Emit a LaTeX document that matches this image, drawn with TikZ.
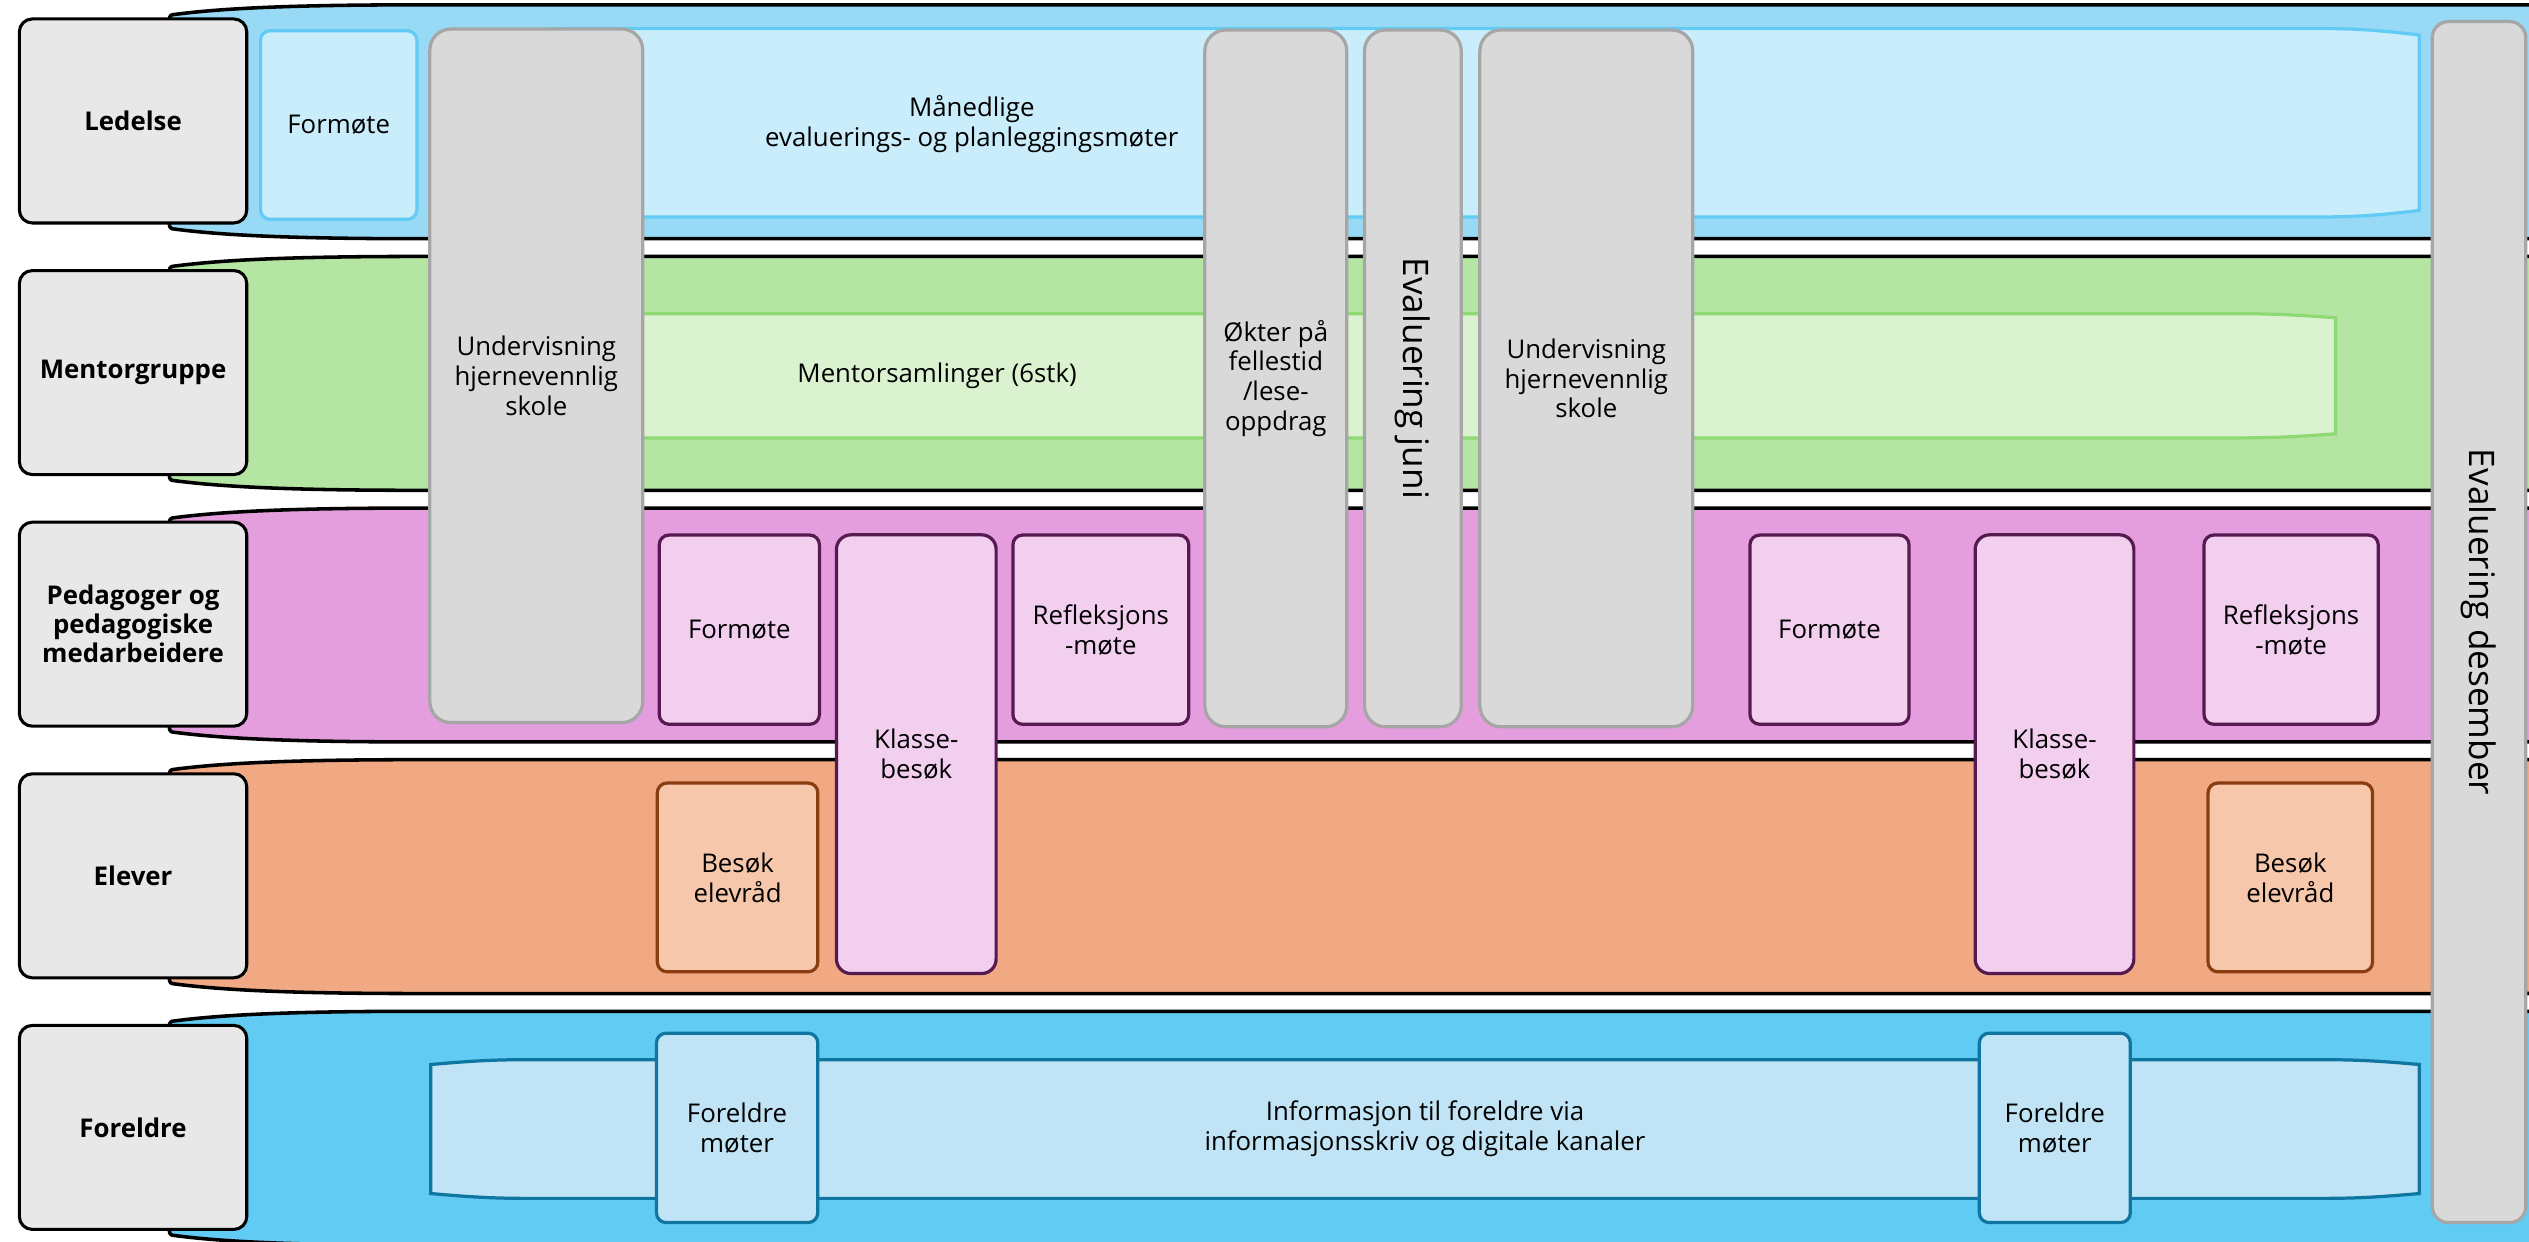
\documentclass[tikz,border=0pt]{standalone}
\usepackage{fontspec}
\setmainfont{Open Sans}
\definecolor{bandA}{HTML}{98DAF6}
\definecolor{bandB}{HTML}{B4E5A2}
\definecolor{bandC}{HTML}{E49EDD}
\definecolor{bandD}{HTML}{F1A983}
\definecolor{bandE}{HTML}{61CBF3}
\definecolor{inA}{HTML}{CAEDFB}
\definecolor{inAline}{HTML}{61CBF3}
\definecolor{inB}{HTML}{DAF2D0}
\definecolor{inBline}{HTML}{8ED973}
\definecolor{inC}{HTML}{F2CEEF}
\definecolor{inCline}{HTML}{561A51}
\definecolor{inD}{HTML}{F7C7AC}
\definecolor{inDline}{HTML}{8B3D12}
\definecolor{inE}{HTML}{C0E4F5}
\definecolor{inEline}{HTML}{0E76A0}
\definecolor{grayfill}{HTML}{D9D9D9}
\definecolor{grayline}{HTML}{A6A6A6}
\definecolor{labfill}{HTML}{E8E8E8}
% bulged shape: xl xr ty by bulge transition
\newcommand{\bulgeshape}[6]{(#1,#3) .. controls ({#1+0.35*#6},{#3-0.6*#5}) and ({#1+0.6*#6},{#3-#5}) .. ({#1+#6},{#3-#5}) -- ({#2-#6},{#3-#5}) .. controls ({#2-0.6*#6},{#3-#5}) and ({#2-0.35*#6},{#3-0.6*#5}) .. (#2,#3) -- (#2,#4) .. controls ({#2-0.35*#6},{#4+0.6*#5}) and ({#2-0.6*#6},{#4+#5}) .. ({#2-#6},{#4+#5}) -- ({#1+#6},{#4+#5}) .. controls ({#1+0.6*#6},{#4+#5}) and ({#1+0.35*#6},{#4+0.6*#5}) .. (#1,#4) -- cycle}
% band shape: top y, bottom y
\newcommand{\bandshape}[2]{(105,{#2-3}) -- (105,{#1+3}) .. controls (105,{#1+1}) and (106,#1) .. (108,#1) .. controls (135,{#1-3.5}) and (175,{#1-6}) .. (260,{#1-6}) -- (1560,{#1-6}) .. controls (1620,{#1-6}) and (1680,{#1-3}) .. (1720,#1) -- (1720,#2) .. controls (1680,{#2+3}) and (1620,{#2+6}) .. (1560,{#2+6}) -- (260,{#2+6}) .. controls (175,{#2+6}) and (135,{#2+3.5}) .. (108,#2) .. controls (106,#2) and (105,{#2-1}) .. (105,{#2-3}) -- cycle}
\tikzset{
  txt/.style={font=\fontsize{16}{18.5}\selectfont, align=center, text=black},
  band/.style={draw=black, line width=2.2pt, line join=round},
  lab/.style={draw=black, line width=1.9pt, fill=labfill, rounded corners=8pt,
    minimum width=141pt, minimum height=126.5pt, inner sep=0pt, align=center,
    font=\fontsize{16}{18}\selectfont\bfseries},
  sbox/.style={line width=2pt, rounded corners=6pt, inner sep=0pt, txt},
  boxA/.style={sbox, draw=inAline, fill=inA},
  boxC/.style={sbox, draw=inCline, fill=inC},
  boxD/.style={sbox, draw=inDline, fill=inD},
  boxE/.style={sbox, draw=inEline, fill=inE},
  graybox/.style={draw=grayline, fill=grayfill, line width=2pt, rounded corners=13pt,
    inner sep=0pt, txt},
  vlabel/.style={font=\fontsize{21.8}{24}\selectfont, rotate=-90, inner sep=0pt},
}
\begin{document}
\begin{tikzpicture}[x=1pt,y=-1pt]
\useasboundingbox (0,0) rectangle (1568,770);
\clip (0,0) rectangle (1568,770);
% bands
\foreach \k/\c in {0/bandA,1/bandB,2/bandC,3/bandD,4/bandE}{
  \pgfmathsetmacro{\t}{9+156*\k}
  \pgfmathsetmacro{\b}{142+156*\k}
  \draw[band, fill=\c] \bandshape{\t}{\b};
  \coordinate (band\k) at (105,\t);
}
% inner wide boxes
\draw[line width=2pt, draw=inAline, fill=inA] \bulgeshape{300}{1500}{21.7}{130.5}{4}{60};
\draw[line width=2pt, draw=inBline, fill=inB] \bulgeshape{300}{1448}{197}{269}{2.5}{60};
\draw[line width=2pt, draw=inEline, fill=inE] \bulgeshape{267}{1500}{660}{740}{3}{60};
\node[txt] (maaned) at (602.5,77) {Månedlige\\evaluerings- og planleggingsmøter};
\node[txt] (mentors) at (581,233) {Mentorsamlinger (6stk)};
\node[txt] (info) at (883.5,700) {Informasjon til foreldre via\\informasjonsskriv og digitale kanaler};
% Ledelse row
\node[boxA, minimum width=97pt, minimum height=117pt] (formA) at (210,77.5) {Formøte};
% Pedagoger row
\node[boxC, minimum width=99.3pt, minimum height=117.3pt] (formC1) at (458.4,390.4) {Formøte};
\node[boxC, minimum width=109pt, minimum height=117.3pt] (refl1) at (682.5,390.4) {Refleksjons\\-møte};
\node[boxC, minimum width=98.6pt, minimum height=117.3pt] (formC2) at (1134.3,390.4) {Formøte};
\node[boxC, minimum width=108pt, minimum height=117.3pt] (refl2) at (1420.5,390.4) {Refleksjons\\-møte};
% Elever row
\node[boxD, minimum width=99.5pt, minimum height=117pt] (elev1) at (457.3,544) {Besøk\\elevråd};
\node[boxD, minimum width=102pt, minimum height=117pt] (elev2) at (1420,544) {Besøk\\elevråd};
% Klassebesøk spanning
\node[boxC, rounded corners=9pt, minimum width=99pt, minimum height=272pt] (klasse1) at (568.1,467.6) {Klasse-\\besøk};
\node[boxC, rounded corners=9pt, minimum width=98.4pt, minimum height=272pt] (klasse2) at (1273.8,467.6) {Klasse-\\besøk};
% Foreldre row
\node[boxE, minimum width=100pt, minimum height=117.4pt] (fm1) at (457,699.3) {Foreldre\\møter};
\node[boxE, minimum width=93.6pt, minimum height=117.4pt] (fm2) at (1274,699.3) {Foreldre\\møter};
% gray columns
\node[graybox, minimum width=132pt, minimum height=430pt] (und1) at (332.5,233) {Undervisning\\hjernevennlig\\skole};
\node[graybox, minimum width=88pt, minimum height=432pt] (okter) at (791,234.6) {Økter på\\fellestid\\/lese-\\oppdrag};
\node[graybox, minimum width=60pt, minimum height=432pt] (evjuni) at (876,234.6) {};
\node[vlabel] (evjunit) at (evjuni.center) {Evaluering juni};
\node[graybox, minimum width=132pt, minimum height=432pt] (und2) at (983.5,234.6) {Undervisning\\hjernevennlig\\skole};
\node[graybox, rounded corners=10pt, minimum width=58pt, minimum height=744.6pt] (evdes) at (1537,385.7) {};
\node[vlabel] (evdest) at (evdes.center) {Evaluering desember};
% row labels
\node[lab] (ledelse) at (82.5,75) {Ledelse};
\node[lab] (mentor) at (82.5,231) {Mentorgruppe};
\node[lab] (pedagog) at (82.5,387) {Pedagoger og\\pedagogiske\\medarbeidere};
\node[lab] (elever) at (82.5,543) {Elever};
\node[lab] (foreldre) at (82.5,699) {Foreldre};
\end{tikzpicture}
\end{document}
